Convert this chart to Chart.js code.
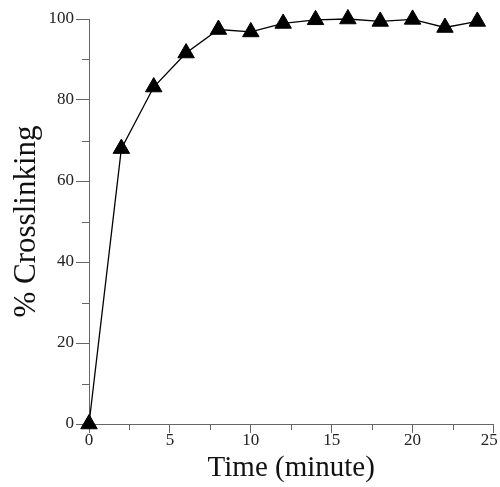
<!DOCTYPE html>
<html>
<head>
<meta charset="UTF-8">
<title>% Crosslinking vs Time</title>
<script src="https://cdn.jsdelivr.net/npm/chart.js"></script>
<style>
    html, body { margin: 0; padding: 0; background: #fff; }
    #wrap { width: 500px; height: 487px; }
</style>
</head>
<body>
<div id="wrap"><canvas id="chart"></canvas></div>
<script>
// data
const times = [0, 2, 4, 6, 8, 10, 12, 14, 16, 18, 20, 22, 24];
const crosslinking = [0, 68, 83.2, 91.6, 97.4, 96.8, 98.9, 99.8, 100, 99.4, 99.9, 97.9, 99.4];
const xMajor = [0, 5, 10, 15, 20, 25];
const yMajor = [0, 20, 40, 60, 80, 100];

const axisCol = '#666';
const serif = "'Liberation Serif', 'Times New Roman', serif";

// short minor ticks between the labelled ones
const minorTicks = {
    id: 'minorTicks',
    afterDraw(chart) {
        const ctx = chart.ctx;
        const xs = chart.scales.x, ys = chart.scales.y;
        ctx.save();
        ctx.strokeStyle = axisCol;
        ctx.lineWidth = 1;
        ctx.beginPath();
        xs.ticks.forEach(t => {
            if (!xMajor.includes(t.value)) {
                const px = Math.round(xs.getPixelForValue(t.value)) + 0.5;
                ctx.moveTo(px, xs.top);
                ctx.lineTo(px, xs.top + 6);
            }
        });
        ys.ticks.forEach(t => {
            if (!yMajor.includes(t.value)) {
                const py = Math.round(ys.getPixelForValue(t.value)) + 0.5;
                ctx.moveTo(ys.right - 7, py);
                ctx.lineTo(ys.right, py);
            }
        });
        ctx.stroke();
        ctx.restore();
    }
};

// the original axis runs almost to the right edge, the "25" label hangs over
const stretchRight = {
    id: 'stretchRight',
    afterLayout(chart) {
        const xs = chart.scales.x;
        const r = 493.5;
        chart.chartArea.right = r;
        chart.chartArea.width = r - chart.chartArea.left;
        xs.right = r;
        xs.width = r - xs.left;
        xs.configure();
    }
};

function xLabel(v) {
    if (!xMajor.includes(v)) return '';
    // last label sits a little left of its tick, as in the original
    return v === 25 ? '25\u00a0\u00a0' : String(v);
}

new Chart(document.getElementById('chart'), {
    type: 'line',
    data: {
        datasets: [{
            data: times.map((t, i) => ({ x: t, y: crosslinking[i] })),
            borderColor: '#000',
            borderWidth: 1.3,
            backgroundColor: '#000',
            pointStyle: 'triangle',
            pointRadius: 9.5,
            pointBorderWidth: 1,
            pointBackgroundColor: '#000',
            pointBorderColor: '#000',
            tension: 0,
            clip: false
        }]
    },
    options: {
        responsive: true,
        maintainAspectRatio: false,
        animation: false,
        layout: { padding: { top: 19, left: 0, right: 0, bottom: 0 } },
        plugins: {
            legend: { display: false },
            tooltip: { enabled: false }
        },
        scales: {
            x: {
                type: 'linear',
                min: 0,
                max: 25,
                afterFit: s => { s.height = 63; },
                border: { color: axisCol, width: 1 },
                grid: {
                    drawOnChartArea: false,
                    drawTicks: true,
                    tickLength: 9,
                    tickColor: c => (c.tick && xMajor.includes(c.tick.value)) ? axisCol : 'rgba(0,0,0,0)'
                },
                ticks: {
                    stepSize: 2.5,
                    autoSkip: false,
                    maxRotation: 0,
                    padding: -3,
                    color: '#222',
                    font: { family: serif, size: 17 },
                    callback: xLabel
                },
                title: {
                    display: true,
                    text: 'Time (minute)',
                    color: '#111',
                    font: { family: serif, size: 29, lineHeight: 1.2 },
                    padding: { top: 0, bottom: 1 }
                }
            },
            y: {
                min: 0,
                max: 100,
                afterFit: s => { s.width = 89; },
                border: { color: axisCol, width: 1 },
                grid: {
                    drawOnChartArea: false,
                    drawTicks: true,
                    tickLength: 13,
                    tickColor: c => (c.tick && yMajor.includes(c.tick.value)) ? axisCol : 'rgba(0,0,0,0)'
                },
                ticks: {
                    stepSize: 10,
                    autoSkip: false,
                    padding: 2,
                    color: '#222',
                    font: { family: serif, size: 17 },
                    callback: v => yMajor.includes(v) ? String(v) : ''
                },
                title: {
                    display: true,
                    text: '% Crosslinking',
                    color: '#111',
                    font: { family: serif, size: 31, lineHeight: 1.2 },
                    padding: { top: 8, bottom: 0 }
                }
            }
        }
    },
    plugins: [minorTicks, stretchRight]
});
</script>
</body>
</html>
